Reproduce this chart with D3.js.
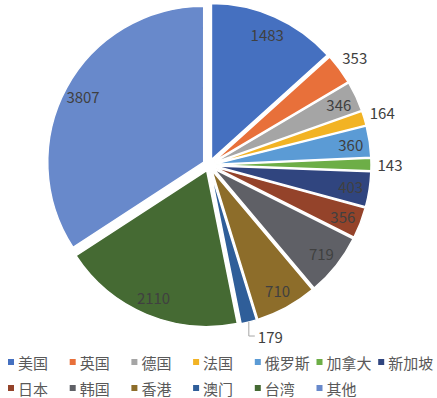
<!DOCTYPE html>
<head>
    <meta charset="utf-8">
    <script src="https://d3js.org/d3.v7.min.js"></script>
    <style>
        body { margin:0; background:#fff; }
        text { font-family: "Noto Sans CJK SC", "DejaVu Sans", sans-serif; }
    </style>
</head>
<body>
    <svg id="chart" width="437" height="398"></svg>
    <script>
        // Data
        var categories = ["美国","英国","德国","法国","俄罗斯","加拿大","新加坡","日本","韩国","香港","澳门","台湾","其他"];
        var values = [1483, 353, 346, 164, 360, 143, 403, 356, 719, 710, 179, 2110, 3807];
        var colors = ["#4570C0","#E8703A","#A5A5A5","#F2B324","#5B9BD5","#6DAE47","#30457F","#94432A","#5F6066","#8D6D2A","#2F5E99","#456A33","#6889CB"];
        // labels drawn outside of their slice
        var outside = ["英国","法国","加拿大"];
        var withLeader = ["澳门"];

        var svg = d3.select("#chart");
        var cx = 209, cy = 165, R = 156, explode = 6;

        var data = categories.map(function(c, i) { return {name: c, value: values[i], color: colors[i]}; });

        var pie = d3.pie().sort(null).value(function(d) { return d.value; });
        var arcs = pie(data);
        var arc = d3.arc().innerRadius(0).outerRadius(R);

        var g = svg.append("g").attr("transform", "translate(" + cx + "," + cy + ")");

        function mid(d) { return (d.startAngle + d.endAngle) / 2; }
        function polar(a, r) { return [r * Math.sin(a), -r * Math.cos(a)]; }

        //Draw exploded slices
        g.selectAll(".slice")
            .data(arcs)
            .enter().append("path")
            .attr("class", "slice")
            .attr("d", arc)
            .attr("fill", function(d) { return d.data.color; })
            .attr("stroke", "#fff")
            .attr("stroke-width", 1.5)
            .attr("transform", function(d) {
                var p = polar(mid(d), explode);
                return "translate(" + p[0] + "," + p[1] + ")";
            });

        //Value labels
        function labelR(d) { return outside.indexOf(d.data.name) >= 0 ? 181 : R * 0.88 + explode; }
        g.selectAll(".lbl")
            .data(arcs.filter(function(d) { return withLeader.indexOf(d.data.name) < 0; }))
            .enter().append("text")
            .attr("class", "lbl")
            .attr("text-anchor", "middle")
            .attr("dominant-baseline", "central")
            .attr("font-size", "15px")
            .attr("fill", "#404040")
            .attr("x", function(d) { return polar(mid(d), labelR(d))[0]; })
            .attr("y", function(d) { return polar(mid(d), labelR(d))[1]; })
            .text(function(d) { return d.value; });

        //Label with leader line
        arcs.filter(function(d) { return withLeader.indexOf(d.data.name) >= 0; }).forEach(function(d) {
            var p = polar(mid(d), R + explode);
            var ty = p[1] + 14;
            g.append("path")
                .attr("d", "M" + p[0] + "," + p[1] + "V" + ty + "h6")
                .attr("fill", "none")
                .attr("stroke", "#a6a6a6")
                .attr("stroke-width", 1);
            g.append("text")
                .attr("x", p[0] + 9)
                .attr("y", ty)
                .attr("dominant-baseline", "central")
                .attr("font-size", "15px")
                .attr("fill", "#404040")
                .text(d.value);
        });

        //Legend, two rows
        var perRow = 7, colW = 61.7;
        var legend = svg.selectAll(".legend")
            .data(data)
            .enter().append("g")
            .attr("class", "legend")
            .attr("transform", function(d, i) {
                return "translate(" + (8 + (i % perRow) * colW) + "," + (362 + Math.floor(i / perRow) * 26) + ")";
            });
        legend.append("rect")
            .attr("x", 0).attr("y", -3)
            .attr("width", 6).attr("height", 6)
            .attr("fill", function(d) { return d.color; });
        legend.append("text")
            .attr("x", 10)
            .attr("dominant-baseline", "central")
            .attr("font-size", "15px")
            .attr("fill", "#595959")
            .text(function(d) { return d.name; });
    </script>
</body>
